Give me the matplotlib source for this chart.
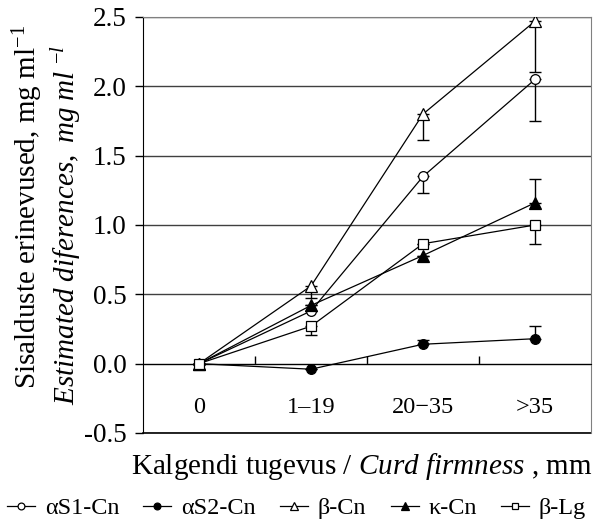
import matplotlib
matplotlib.use("Agg")
import matplotlib.pyplot as plt
import numpy as np

# Data
categories = ["0", "1\u201319", "20\u221235", ">35"]
as1_cn = [0.0, 0.38, 1.35, 2.05]
as2_cn = [0.0, -0.04, 0.14, 0.18]
b_cn = [0.0, 0.56, 1.80, 2.47]
k_cn = [0.0, 0.42, 0.78, 1.16]
b_lg = [0.0, 0.27, 0.865, 1.00]
# one-sided error bars: (down, up)
as1_err = ([0, 0.0, 0.12, 0.30], [0, 0, 0, 0])
as2_err = ([0, 0, 0, 0], [0, 0.0, 0.03, 0.09])
b_err = ([0, 0.09, 0.19, 0.37], [0, 0, 0, 0])
k_err = ([0, 0, 0, 0], [0, 0.0, 0.0, 0.17])
lg_err = ([0, 0.06, 0.0, 0.14], [0, 0, 0, 0])

plt.rcParams['font.family'] = ['Liberation Serif', 'DejaVu Serif']
plt.rcParams['mathtext.fontset'] = 'custom'
plt.rcParams['mathtext.rm'] = 'Liberation Serif'
plt.rcParams['mathtext.it'] = 'Liberation Serif:italic'

fig = plt.figure(figsize=(5.93, 5.21), dpi=100)
ax = fig.add_axes([143/593, 1-433/521, 448/593, 416/521])

x = np.arange(len(categories))
series = [
    ("\u03b1S1-Cn", as1_cn, as1_err, "o", "white", 7),
    ("\u03b1S2-Cn", as2_cn, as2_err, "o", "black", 7),
    ("\u03b2-Cn", b_cn, b_err, "^", "white", 8),
    ("\u03ba-Cn", k_cn, k_err, "^", "black", 8),
    ("\u03b2-Lg", b_lg, lg_err, "s", "white", 7),
]
for name, vals, err, mk, fc, ms in series:
    ax.errorbar(x, vals, yerr=np.array(err), fmt="none", ecolor="black",
                elinewidth=1, capsize=4, capthick=1, zorder=2)
    ax.plot(x, vals, color="black", lw=0.9, marker=mk, markersize=ms,
            markerfacecolor=fc, markeredgecolor="black", markeredgewidth=0.9,
            label=name, zorder=3)

ax.set_xlim(-0.5, 3.5)
ax.set_ylim(-0.5, 2.5)
ax.set_yticks(np.arange(-0.5, 2.51, 0.5))
ax.set_yticklabels(["-0.5", "0.0", "0.5", "1.0", "1.5", "2.0", "2.5"])
ax.yaxis.grid(True, color="#404040", lw=1)
ax.set_axisbelow(True)
ax.tick_params(axis="y", direction="out", length=6, width=1, labelsize=19.5, pad=6)

# x axis sits on zero
ax.spines['bottom'].set_position(('data', 0))
ax.spines['bottom'].set_color('black')
ax.set_xticks([0.5, 1.5, 2.5])
ax.set_xticklabels([])
ax.set_xticks(x, minor=True)
ax.set_xticklabels(categories, minor=True)
ax.tick_params(axis="x", which="major", direction="in", length=6, width=1)
ax.tick_params(axis="x", which="minor", length=0, labelsize=17.5, pad=24)
ax.axhline(-0.5, color="black", lw=1.2, clip_on=False, zorder=1)
ax.spines['left'].set_color('black')
ax.spines['right'].set_color('#808080')
ax.spines['top'].set_color('#808080')

fig.text(28/593, 1-207/521, "Sisalduste erinevused, mg ml$^{\u22121}$", rotation=90,
         ha="center", va="center", fontsize=21)
fig.text(66/593, 1-225/521, "$\\it{Estimated\\ diferences,\\ mg\\ ml}$ $^{\u2212l}$", rotation=90,
         ha="center", va="center", fontsize=21)
fig.text(362/593, 1-467/521, "Kalgendi tugevus / $\\it{Curd\\ firmness}$ , mm",
         ha="center", va="center", fontsize=21)

fig.legend(loc="center", bbox_to_anchor=(0.5, 1-508/521), ncol=5, frameon=False,
           fontsize=17.5, handlelength=1.15, handletextpad=0.4, columnspacing=1.0,
           markerscale=0.7, borderaxespad=0, borderpad=0)

fig.savefig("out.png", dpi=100)
